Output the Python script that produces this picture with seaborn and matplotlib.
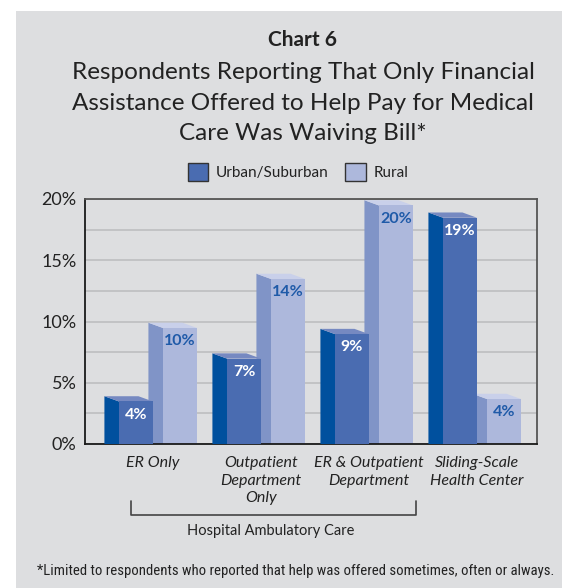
import matplotlib
matplotlib.use("Agg")
import matplotlib.pyplot as plt
import matplotlib.patches as mpatches
from matplotlib.lines import Line2D
from matplotlib.transforms import blended_transform_factory
import seaborn as sns
import pandas as pd
import numpy as np

# ---- data ----
categories = ["ER Only", "Outpatient\nDepartment\nOnly", "ER & Outpatient\nDepartment",
              "Sliding-Scale\nHealth Center"]
series = ["Urban/Suburban", "Rural"]
urban = [3.9, 7.4, 9.4, 18.9]
rural = [9.9, 13.9, 19.9, 4.1]
urban_labels = ["4%", "7%", "9%", "19%"]
rural_labels = ["10%", "14%", "20%", "4%"]
yticks = [0, 5, 10, 15, 20]
ytick_labels = ["0%", "5%", "10%", "15%", "20%"]

# ---- style ----
front_cols = ["#4a6cb1", "#adb8dc"]
side_cols = ["#00509e", "#8094c7"]
top_cols = ["#7689c1", "#c9d0ea"]
label_cols = ["white", "#1f5aa8"]
panel_col = "#dddee0"

sns.set_theme(style="white")
plt.rcParams["font.family"] = ["Lato", "DejaVu Sans"]

df = pd.DataFrame({
    "category": categories * 2,
    "series": [series[0]] * 4 + [series[1]] * 4,
    "value": urban + rural,
})

fig = plt.figure(figsize=(5.62, 5.88), dpi=100)
fig.patch.set_facecolor("white")
fig.add_artist(mpatches.Rectangle((16 / 562, 0), 1 - 16 / 562, 1 - 11 / 588,
                                  transform=fig.transFigure, facecolor=panel_col,
                                  edgecolor="none", zorder=0))

ax = fig.add_axes([85 / 562, 1 - 444 / 588, 452 / 562, 245 / 588])
ax.set_facecolor("none")

sns.barplot(data=df, x="category", y="value", hue="series", order=categories,
            hue_order=series, palette=front_cols, width=0.815, gap=0.227,
            saturation=1, legend=False, ax=ax, edgecolor="none", linewidth=0)

ax.set_ylim(0, 20)
ax.set_xlim(-0.676, 3.509)

dh = 0.43   # vertical depth of 3D effect (data units)
dx = 0.135  # horizontal depth (category units)

vals = [urban, rural]
labs = [urban_labels, rural_labels]
patches = list(ax.patches)
for s in range(2):
    for i in range(4):
        p = patches[s * 4 + i]
        v = vals[s][i]
        x0 = p.get_x()
        w = p.get_width()
        hf = v - dh
        p.set_height(hf)
        z = 3 if s == 0 else 2
        p.set_zorder(z + 0.2)
        side = mpatches.Polygon([(x0 - dx, 0), (x0, 0), (x0, hf), (x0 - dx, v)],
                                closed=True, facecolor=side_cols[s], edgecolor="none",
                                zorder=z + 0.1)
        top = mpatches.Polygon([(x0 - dx, v), (x0 + w - dx, v), (x0 + w, hf), (x0, hf)],
                               closed=True, facecolor=top_cols[s], edgecolor="none",
                               zorder=z + 0.1)
        ax.add_patch(side)
        ax.add_patch(top)
        ax.annotate(labs[s][i], (x0 + w / 2, hf), xytext=(0, -9.5), textcoords="offset points",
                    ha="center", va="center", fontsize=11.5, fontweight="bold",
                    color=label_cols[s], zorder=5)

# grid
ax.set_yticks(yticks)
ax.set_yticklabels(ytick_labels, fontsize=13, color="#222222")
ax.set_yticks(np.arange(2.5, 20, 2.5), minor=True)
ax.yaxis.grid(True, which="both", color="#bdbec0", linewidth=1.2, zorder=0)
ax.set_axisbelow(True)
ax.tick_params(axis="both", which="both", length=0)
ax.tick_params(axis="y", pad=6)
ax.set_xlabel("")
ax.set_ylabel("")

ax.set_xticks([i - 0.05 for i in range(4)])
ax.set_xticklabels(categories, fontsize=11.5, style="italic", color="#222222")
ax.tick_params(axis="x", pad=9)
for t in ax.get_xticklabels():
    t.set_linespacing(1.3)
    t.set_verticalalignment("top")

for side_name in ["left", "bottom"]:
    ax.spines[side_name].set_color("#1a1a1a")
    ax.spines[side_name].set_linewidth(1.3)
for side_name in ["top", "right"]:
    ax.spines[side_name].set_visible(True)
    ax.spines[side_name].set_color("#555555")
    ax.spines[side_name].set_linewidth(1.3)

# bracket for hospital ambulatory care
tr = blended_transform_factory(ax.transData, fig.transFigure)
yb_top = 1 - 501 / 588
yb_bot = 1 - 515 / 588
xl, xr = -0.253, 2.389
fig.add_artist(Line2D([xl, xl, xr, xr], [yb_top, yb_bot, yb_bot, yb_top],
                      transform=tr, color="#444444", linewidth=1.2))
fig.text(1.04, 1 - 531 / 588, "Hospital Ambulatory Care", transform=tr,
         ha="center", va="center", fontsize=10.5, color="#222222")

# titles
fig.text(303 / 562, 1 - 40 / 588, "Chart 6", ha="center", va="center",
         fontsize=15, fontweight="bold", color="#222222")
fig.text(303 / 562, 1 - 103 / 588,
         "Respondents Reporting That Only Financial\nAssistance Offered to Help Pay for Medical\nCare Was Waiving Bill*",
         ha="center", va="center", fontsize=17.5, color="#222222", linespacing=1.58)

# legend
handles = [mpatches.Patch(facecolor=front_cols[k], edgecolor="#333333", linewidth=1.0,
                          label=series[k]) for k in range(2)]
fig.legend(handles=handles, loc="center", bbox_to_anchor=(298 / 562, 1 - 172 / 588),
           ncol=2, frameon=False, fontsize=11, handlelength=1.35, handleheight=1.35,
           handletextpad=0.5, columnspacing=1.1, labelcolor="#222222")

# footnote (fit to reference width)
foot = fig.text(37 / 562, 1 - 571 / 588,
                "*Limited to respondents who reported that help was offered sometimes, often or always.",
                ha="left", va="center", fontsize=11.5, color="#222222",
                family=["Liberation Sans Narrow", "Roboto Condensed", "DejaVu Sans Condensed",
                        "Roboto", "DejaVu Sans"], fontstretch="condensed")
renderer = fig.canvas.get_renderer()
wpx = foot.get_window_extent(renderer).width
target = 514
if wpx > target:
    foot.set_fontsize(11.5 * target / wpx)

fig.savefig("out.png", dpi=100, facecolor=fig.get_facecolor())
